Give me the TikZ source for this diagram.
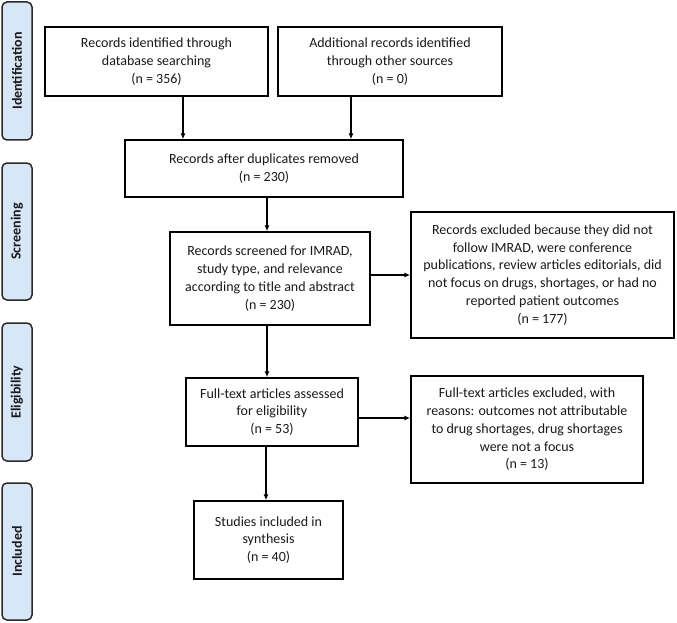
\documentclass[tikz,border=0pt]{standalone}
\usepackage{fontspec}
\setmainfont{Carlito}
\usetikzlibrary{arrows.meta,calc}
\definecolor{barfill}{HTML}{D8E7F8}
\definecolor{barline}{HTML}{2A2A2A}
\begin{document}
\begin{tikzpicture}[x=1pt,y=-1pt,
  box/.style={draw=black,line width=1.4pt,align=center,inner sep=2pt,
    font=\fontsize{14}{17.8}\selectfont,text=black!90},
  bar/.style={draw=barline,fill=barfill,line width=1.5pt,rounded corners=5pt},
  barlabel/.style={rotate=90,font=\fontsize{14}{16}\selectfont\bfseries,text=black!90},
  arr/.style={line width=1.2pt,-{Latex[length=6pt,width=5pt]}}]
\useasboundingbox (0,0) rectangle (677,623);
% side bars
\draw[bar] (2,2) rectangle (32,140);
\node[barlabel] (lid) at (17,71) {Identification};
\draw[bar] (2,163) rectangle (32,300);
\node[barlabel] (lsc) at (17,231.5) {Screening};
\draw[bar] (2,323) rectangle (32,461);
\node[barlabel] (lel) at (17,392) {Eligibility};
\draw[bar] (2,483) rectangle (32,620);
\node[barlabel] (lin) at (17,551.5) {Included};
% boxes
\node[box,minimum width=223pt,minimum height=69pt] (b1) at (156.5,61.5)
  {Records identified through\\database searching\\(n = 356)};
\node[box,minimum width=224pt,minimum height=69pt] (b2) at (390,61.5)
  {Additional records identified\\through other sources\\(n = 0)};
\node[box,minimum width=278pt,minimum height=57pt] (b3) at (264,168.5)
  {Records after duplicates removed\\(n = 230)};
\node[box,minimum width=200pt,minimum height=93pt] (b4) at (270,278.5)
  {Records screened for IMRAD,\\study type, and relevance\\according to title and abstract\\(n = 230)};
\node[box,minimum width=263pt,minimum height=126pt] (b5) at (542.5,275)
  {Records excluded because they did not\\follow IMRAD, were conference\\publications, review articles editorials, did\\not focus on drugs, shortages, or had no\\reported patient outcomes\\(n = 177)};
\node[box,minimum width=172pt,minimum height=68pt] (b6) at (272,412)
  {Full-text articles assessed\\for eligibility\\(n = 53)};
\node[box,minimum width=232pt,minimum height=107pt] (b7) at (527,429.5)
  {Full-text articles excluded, with\\reasons: outcomes not attributable\\to drug shortages, drug shortages\\were not a focus\\(n = 13)};
\node[box,minimum width=149pt,minimum height=78pt] (b8) at (268.5,540)
  {Studies included in\\synthesis\\(n = 40)};
% connectors
\draw[arr] ([xshift=26.5pt]b1.south) -- ([xshift=26.5pt]b1.south |- b3.north);
\draw[arr] ([xshift=-39pt]b2.south) -- ([xshift=-39pt]b2.south |- b3.north);
\draw[arr] ([xshift=3pt]b3.south) -- ([xshift=3pt]b3.south |- b4.north);
\draw[arr] ([xshift=-3pt]b4.south) -- ([xshift=-3pt]b4.south |- b6.north);
\draw[arr] ([xshift=-6pt]b6.south) -- ([xshift=-6pt]b6.south |- b8.north);
\draw[arr] (b4.east |- b5.west) -- (b5.west);
\draw[arr] ([yshift=-6pt]b6.east) -- ([yshift=-6pt]b6.east -| b7.west);
\end{tikzpicture}
\end{document}
